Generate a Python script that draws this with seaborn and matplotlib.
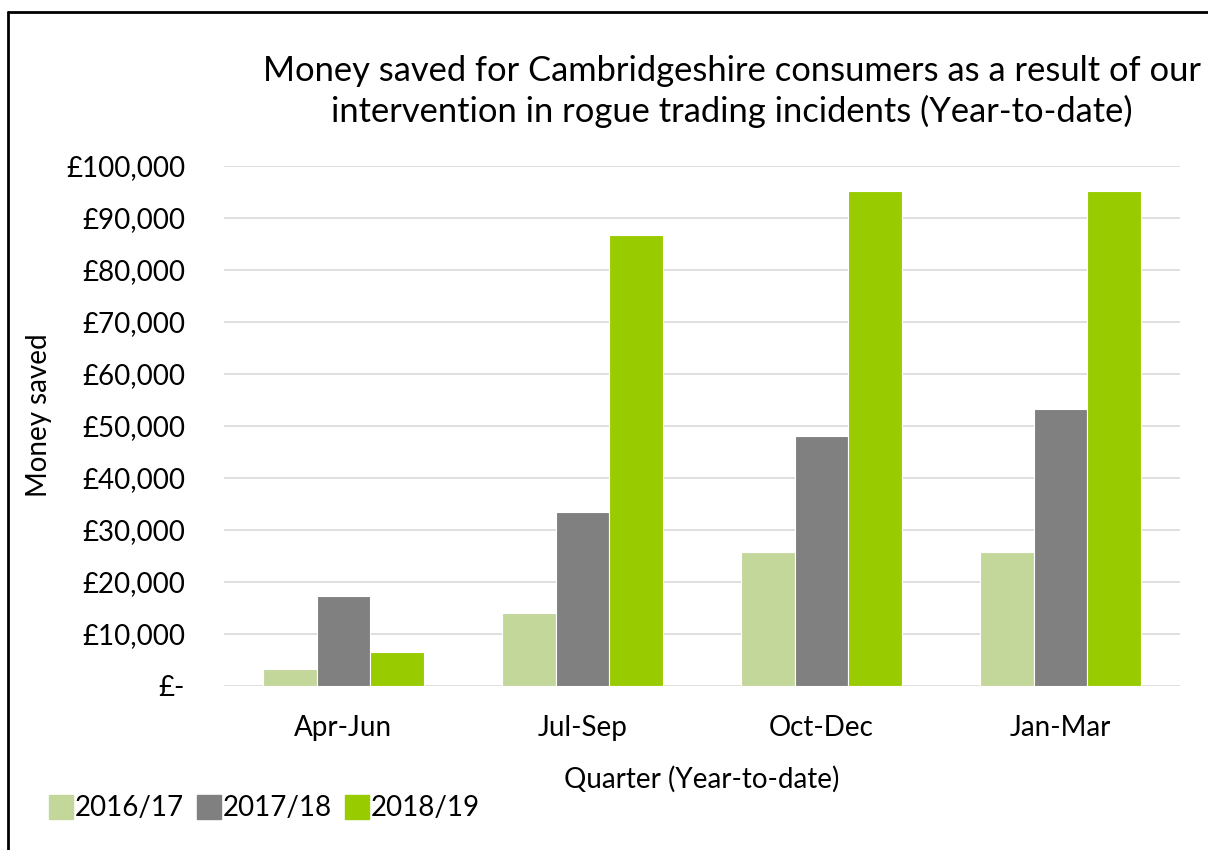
import pandas as pd
import matplotlib.pyplot as plt
import seaborn as sns
from matplotlib.ticker import FuncFormatter
from matplotlib.lines import Line2D

# ============================================================
# DATA
# ============================================================
quarters = ["Apr-Jun", "Jul-Sep", "Oct-Dec", "Jan-Mar"]
years = ["2016/17", "2017/18", "2018/19"]
saved_2016_17 = [3200, 14100, 25800, 25800]
saved_2017_18 = [17300, 33400, 48100, 53300]
saved_2018_19 = [6600, 86700, 95100, 95100]

colors = ["#c4d79b", "#808080", "#99cc00"]

df = pd.DataFrame({
    "quarter": quarters * 3,
    "year": [y for y in years for _ in quarters],
    "saved": saved_2016_17 + saved_2017_18 + saved_2018_19,
})

# ============================================================
# PLOT
# ============================================================
sns.set_theme(style="white")
plt.rcParams["font.family"] = ["Lato", "DejaVu Sans"]
plt.rcParams["text.color"] = "black"
plt.rcParams["axes.labelcolor"] = "black"

fig = plt.figure(figsize=(12.08, 8.5), dpi=100)
ax = fig.add_axes([0.1854, 0.193, 0.7914, 0.6117])

sns.barplot(data=df, x="quarter", y="saved", hue="year",
            order=quarters, hue_order=years, palette=colors,
            saturation=1, width=0.67, gap=0,
            edgecolor="white", linewidth=0.8,
            legend=False, ax=ax)

ax.set_ylim(0, 100000)
ax.set_yticks(range(0, 100001, 10000))
ax.yaxis.set_major_formatter(FuncFormatter(
    lambda v, _: "£-" if v == 0 else f"£{v:,.0f}"))
ax.yaxis.grid(True, color="#d9d9d9", linewidth=1.2)
ax.set_axisbelow(True)
for s in ax.spines.values():
    s.set_visible(False)
ax.tick_params(axis="both", length=0, labelsize=20, colors="black")
ax.tick_params(axis="x", pad=21)
ax.tick_params(axis="y", pad=28)

ax.set_xlabel("Quarter (Year-to-date)", fontsize=20, labelpad=18)
ax.set_ylabel("Money saved", fontsize=20)
ax.yaxis.set_label_coords(-0.180, 0.521)

fig.text(0.606, 0.892,
         "Money saved for Cambridgeshire consumers as a result of our\n"
         "intervention in rogue trading incidents (Year-to-date)",
         ha="center", va="center", fontsize=24.8, linespacing=1.3)

# legend at bottom-left
handles = [Line2D([0], [0], marker="s", linestyle="", markersize=17,
                  markerfacecolor=c, markeredgecolor=c) for c in colors]
fig.legend(handles, years, loc="center left", bbox_to_anchor=(0.03, 0.049),
           ncol=3, frameon=False, fontsize=20, handletextpad=0.0,
           columnspacing=0.4, handlelength=1.0, borderaxespad=0)

# frame lines (top and left edge of the chart box)
fig.add_artist(Line2D([0.0066, 0.0066], [0.0, 0.986], color="black",
                      linewidth=2, transform=fig.transFigure))
fig.add_artist(Line2D([0.0066, 1.0], [0.986, 0.986], color="black",
                      linewidth=2, transform=fig.transFigure))

fig.savefig("out.png", dpi=100)
